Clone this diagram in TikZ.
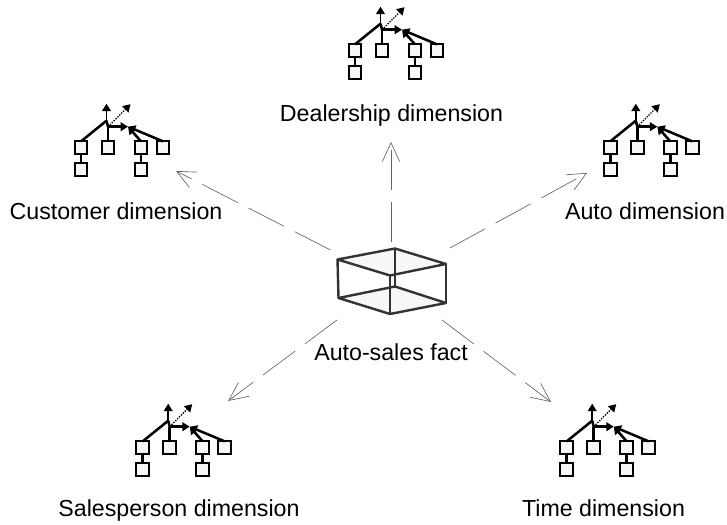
\documentclass[tikz,border=0pt]{standalone}
\usepackage{fontspec}
\setmainfont{Liberation Sans}
\usetikzlibrary{arrows.meta, positioning}

\definecolor{boxfill}{gray}{0.97}
\definecolor{cubeline}{gray}{0.2}

\tikzset{
    treebox/.style={draw=black, line width=1.5pt, fill=boxfill, minimum size=9.5pt, inner sep=0pt, outer sep=0pt},
    treeline/.style={line width=1.9pt, black},
    treetip/.style={-{Triangle[length=5.5pt, width=6.5pt]}},
    dimlabel/.style={anchor=base, inner sep=0pt, font=\fontsize{17.4pt}{20pt}\selectfont},
    spoke/.style={line width=0.5pt, black!60, dash pattern=on 30pt off 9pt, -{Straight Barb[length=14pt, width=13pt, line width=0.5pt]}},
    cubeface/.style={line width=1.8pt, cubeline, fill=boxfill, line join=round},
    cubeedge/.style={line width=1.8pt, cubeline},
    pics/dimtree/.style={code={
        \node[treebox] (-a) at (0,0) {};
        \node[treebox] (-b) at (0,22) {};
        \node[treebox] (-c) at (27,0) {};
        \node[treebox] (-d) at (60,0) {};
        \node[treebox] (-e) at (60,22) {};
        \node[treebox] (-f) at (82,0) {};
        \coordinate (-top) at (25.5,-27);
        \coordinate (-toptip) at (25.5,-44);
        \coordinate (-mid) at (27,-21);
        \coordinate (-midtip) at (47,-21);
        \coordinate (-dottip) at (49.5,-43.5);
        \draw[treeline] (-a) -- (-b);
        \draw[treeline] (-d) -- (-e);
        \draw[treeline] (-a.north) -- (-top);
        \draw[line width=1.2pt, black, treetip] (-top) -- (-toptip);
        \draw[treeline] (-top) -- (-mid);
        \draw[treeline] (-c.north) -- (-mid);
        \draw[treeline, treetip] (-mid) -- (-midtip);
        \draw[treeline, treetip] (-d.north) -- (-midtip);
        \draw[treeline, treetip] (-f.north) -- (-midtip);
        \draw[line width=1pt, black, densely dotted, treetip] (-mid) -- (-dottip);
    }}
}

\begin{document}
\begin{tikzpicture}[x=0.75pt, y=-0.75pt]
    \useasboundingbox (0,0) rectangle (727,524);

    % the cube in the middle
    \coordinate (tl) at (337.5,259.5);
    \coordinate (tb) at (395,248.5);
    \coordinate (tr) at (446,264);
    \coordinate (tf) at (390,275.5);
    \coordinate (bl) at (338.5,298);
    \coordinate (bb) at (395,286.5);
    \coordinate (br) at (446,303);
    \coordinate (bf) at (390,314);
    \draw[cubeface] (bl) -- (bb) -- (br) -- (bf) -- cycle;
    \draw[cubeface] (tl) -- (tb) -- (tr) -- (tf) -- cycle;
    \draw[cubeedge] (tl) -- (bl);
    \draw[cubeedge] (tb) -- (bb);
    \draw[cubeedge] (tr) -- (br);
    \draw[cubeedge] (tf) -- (bf);
    \node[dimlabel] (fact) at (391,360) {Auto-sales fact};

    \pic (dealership) at (355,50.7) {dimtree};
    \pic (customer) at (81,147.7) {dimtree};
    \pic (auto) at (610.3,147.7) {dimtree};
    \pic (salesperson) at (142.7,447.7) {dimtree};
    \pic (time) at (566.7,447.7) {dimtree};

    \node[dimlabel] (dealershiplabel) at (391.5,122) {Dealership dimension};
    \node[dimlabel] (customerlabel) at (116,219) {Customer dimension};
    \node[dimlabel] (autolabel) at (645,219) {Auto dimension};
    \node[dimlabel] (salespersonlabel) at (179,516) {Salesperson dimension};
    \node[dimlabel] (timelabel) at (603.5,516) {Time dimension};

    % spokes
    \coordinate (s1) at (391,242);
    \coordinate (e1) at (391,142);
    \coordinate (s2) at (330.5,250);
    \coordinate (e2) at (176,171);
    \coordinate (s3) at (450,248);
    \coordinate (e3) at (587,173);
    \coordinate (s4) at (337,320);
    \coordinate (e4) at (228,401);
    \coordinate (s5) at (442,320);
    \coordinate (e5) at (551,402);
    \draw[spoke] (s1) -- (e1);
    \draw[spoke] (s2) -- (e2);
    \draw[spoke] (s3) -- (e3);
    \draw[spoke] (s4) -- (e4);
    \draw[spoke] (s5) -- (e5);
\end{tikzpicture}
\end{document}
